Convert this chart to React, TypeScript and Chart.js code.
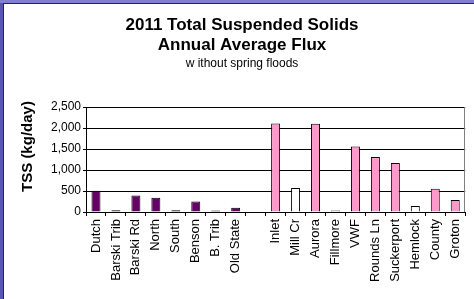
import React, { useEffect, useRef } from 'react';
import { Chart, registerables } from 'chart.js';

Chart.register(...registerables);

const FONT = '"Liberation Sans", Arial, Helvetica, sans-serif';

const categories = [
  'Dutch', 'Barski Trib', 'Barski Rd', 'North', 'South', 'Benson', 'B. Trib', 'Old State', '',
  'Inlet', 'Mill Cr', 'Aurora', 'Fillmore', 'VWF', 'Rounds Ln', 'Suckerport', 'Hemlock', 'County', 'Groton',
];
const tssFlux = [
  505, 40, 395, 340, 40, 252, 35, 100, null,
  2110, 570, 2100, 35, 1560, 1310, 1165, 140, 555, 285,
];
const westSites = ['Dutch', 'Barski Trib', 'Barski Rd', 'North', 'South', 'Benson', 'B. Trib', 'Old State'];
const openSites = ['Mill Cr', 'Hemlock'];
const yTickValues = [0, 500, 1000, 1500, 2000, 2500];

const titleLines = ['2011 Total Suspended Solids', 'Annual Average Flux'];
const subtitleText = 'w ithout spring floods';
const yAxisTitle = 'TSS (kg/day)';

const framePlugin = {
  id: 'frame',
  beforeDraw(chart: any) {
    const { ctx, width, height } = chart;
    ctx.save();
    ctx.fillStyle = '#ffffff';
    ctx.fillRect(0, 0, width, height);
    ctx.fillStyle = '#5858b2';
    ctx.fillRect(0, 0, 3, height);
    ctx.fillStyle = '#8282cc';
    ctx.fillRect(0, 0, width, 3);
    ctx.fillStyle = '#2a2a2a';
    ctx.fillRect(3, 3, 1, height - 3);
    ctx.fillRect(3, 3, width - 3, 1);
    ctx.restore();
  },
  afterDraw(chart: any) {
    const { ctx, chartArea } = chart;
    ctx.save();
    ctx.strokeStyle = '#808080';
    ctx.lineWidth = 1;
    ctx.beginPath();
    ctx.moveTo(Math.round(chartArea.right) - 0.5, chartArea.top);
    ctx.lineTo(Math.round(chartArea.right) - 0.5, chartArea.bottom);
    ctx.stroke();
    // y-axis title
    ctx.translate(28, (chartArea.top + chartArea.bottom) / 2 - 13);
    ctx.rotate(-Math.PI / 2);
    ctx.fillStyle = '#000';
    ctx.font = `bold 15px ${FONT}`;
    ctx.textAlign = 'center';
    ctx.textBaseline = 'middle';
    ctx.fillText(yAxisTitle, 0, 0);
    ctx.restore();
  },
};

export default function App() {
  const canvasRef = useRef<HTMLCanvasElement | null>(null);

  useEffect(() => {
    const canvas = canvasRef.current;
    if (!canvas) return;
    const colors = categories.map((c) =>
      westSites.includes(c) ? '#660066' : openSites.includes(c) ? '#ffffff' : '#ff99cc'
    );
    const chart = new Chart(canvas, {
      type: 'bar',
      data: {
        labels: categories,
        datasets: [
          {
            data: tssFlux as any,
            backgroundColor: colors,
            borderColor: '#000',
            borderWidth: 1,
            barPercentage: 0.45,
            categoryPercentage: 1,
          },
        ],
      },
      options: {
        responsive: false,
        animation: false,
        layout: { padding: { left: 16, top: 4, right: 6, bottom: 0 } },
        plugins: {
          legend: { display: false },
          tooltip: { enabled: false },
          title: {
            display: true,
            text: titleLines,
            color: '#000',
            font: { family: FONT, size: 17, weight: 'bold', lineHeight: 1.22 },
            padding: { top: 10.5, bottom: 0 },
          },
          subtitle: {
            display: true,
            text: subtitleText,
            color: '#000',
            font: { family: FONT, size: 12, lineHeight: 1.2 },
            padding: { top: 0.9, bottom: 35.8 },
          },
        },
        scales: {
          x: {
            grid: { display: true, drawOnChartArea: false, color: '#000', tickLength: 4, offset: true },
            border: { color: '#000' },
            ticks: {
              color: '#000',
              font: { family: FONT, size: 13 },
              minRotation: 90,
              maxRotation: 90,
              padding: 3,
              autoSkip: false,
            },
            afterFit: (s: any) => {
              s.height = 87;
            },
          },
          y: {
            min: 0,
            max: 2500,
            afterBuildTicks: (s: any) => {
              s.ticks = yTickValues.map((v) => ({ value: v }));
            },
            ticks: {
              color: '#000',
              font: { family: FONT, size: 12 },
              padding: 2,
              callback: (v: any) => Number(v).toLocaleString('en-US'),
            },
            grid: { color: '#000', tickLength: 3 },
            border: { color: '#000' },
            afterFit: (s: any) => {
              s.width = 70;
            },
          },
        },
      },
      plugins: [framePlugin],
    });
    return () => chart.destroy();
  }, []);

  return (
    <div style={{ position: 'fixed', left: 0, top: 0, width: 474, height: 299, background: '#fff' }}>
      <canvas ref={canvasRef} width={474} height={299} style={{ display: 'block', width: 474, height: 299 }} />
    </div>
  );
}
